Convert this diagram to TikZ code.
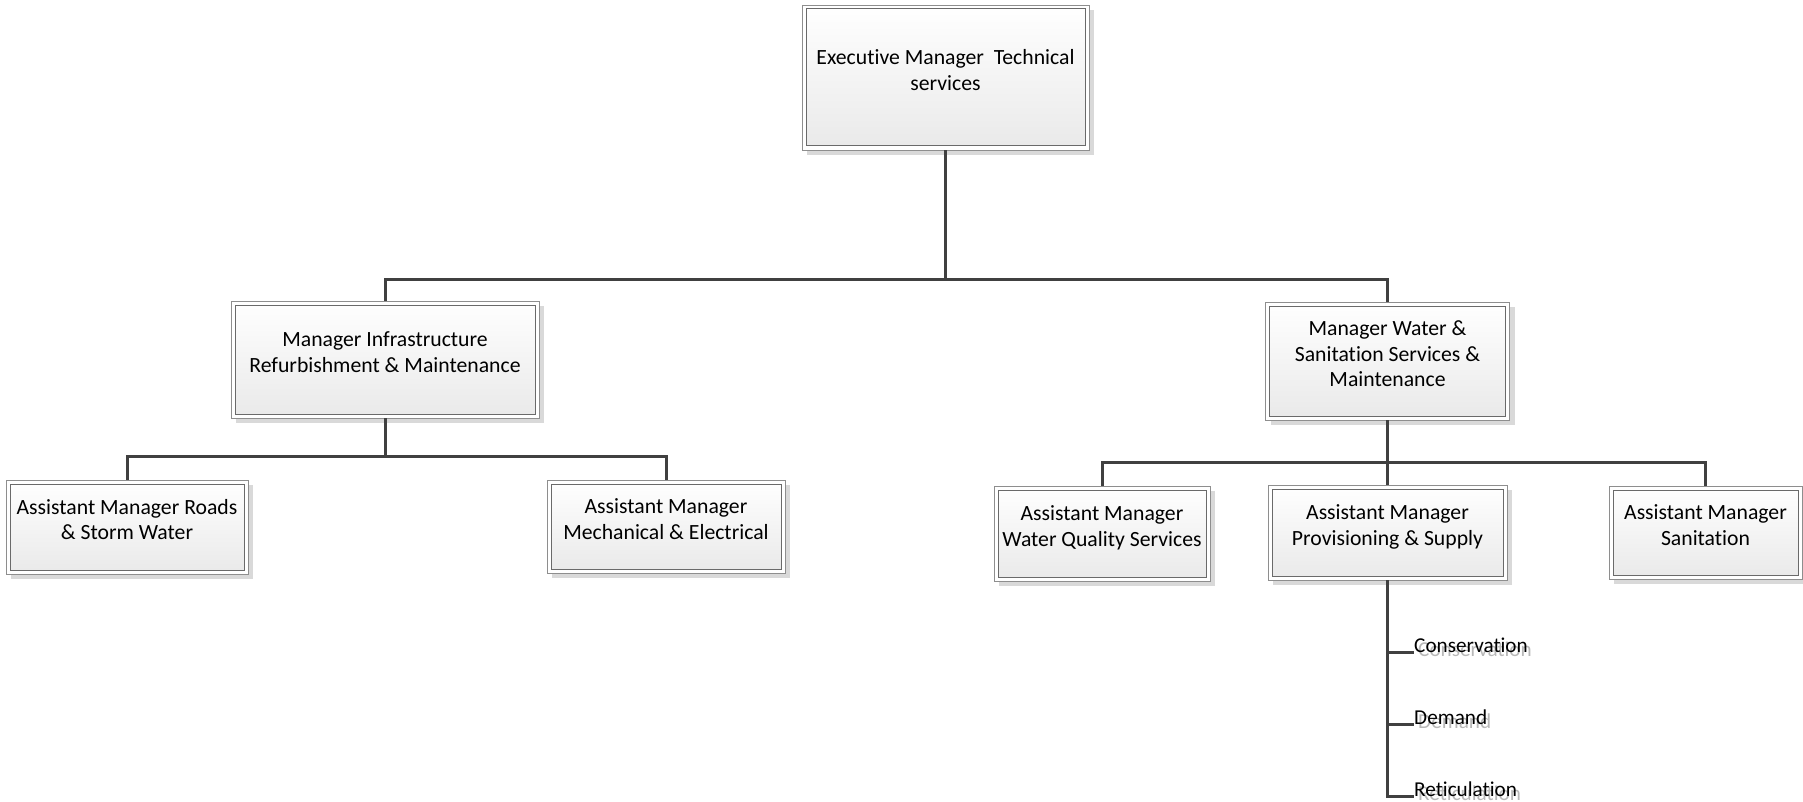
\documentclass[tikz,border=0pt]{standalone}
\usepackage{fontspec}
\setmainfont{Carlito}[Ligatures=NoCommon]
\usetikzlibrary{shadows}

\definecolor{linkgray}{HTML}{404040}
\definecolor{rimgray}{HTML}{8E8E8E}
\definecolor{edgegray}{HTML}{6A6A6A}
\definecolor{shadegray}{HTML}{E9E9E9}
\definecolor{dropgray}{HTML}{D9D9D9}
\definecolor{ghostgray}{HTML}{B8B8B8}

% equal height and depth around the text block, so the box centre
% falls halfway between the first and the last baseline
\newcommand\boxlines[1]{\rule{0pt}{16pt}#1\rule[-16pt]{0pt}{16pt}}

\begin{document}
\begin{tikzpicture}[x=1pt,y=-1pt,
  orgbox/.style={rectangle, draw=rimgray, line width=0.8pt, fill=white,
    inner sep=0pt, align=center, font=\fontsize{21.7}{25.8}\selectfont,
    drop shadow={shadow xshift=5pt, shadow yshift=-5pt, fill=dropgray, opacity=1},
    path picture={\draw[edgegray, line width=1pt, top color=white, bottom color=shadegray]
      ([xshift=4pt,yshift=-4pt]path picture bounding box.north west) rectangle
      ([xshift=-4pt,yshift=4pt]path picture bounding box.south east);}},
  conn/.style={draw=linkgray, line width=3pt},
  lbl/.style={font=\fontsize{21.2}{25.6}\selectfont, inner sep=0pt, anchor=base west},
  ghost/.style={lbl, text=ghostgray}]

\useasboundingbox (0,0) rectangle (1803,802);

% boxes
\node[orgbox, minimum width=287pt, minimum height=145pt] (top) at (945.5,77.5)
  {\boxlines{Executive Manager~ Technical\\services}};
\node[orgbox, minimum width=308pt, minimum height=117pt] (infra) at (385,359.5)
  {\boxlines{Manager Infrastructure\\Refurbishment \& Maintenance}};
\node[orgbox, minimum width=244pt, minimum height=118pt] (water) at (1387.5,361)
  {\boxlines{Manager Water \&\\Sanitation Services \&\\Maintenance}};
\node[orgbox, minimum width=242pt, minimum height=94pt] (roads) at (127,527)
  {\boxlines{Assistant Manager Roads\\\& Storm Water}};
\node[orgbox, minimum width=238pt, minimum height=93pt] (mech) at (666,526.5)
  {\boxlines{Assistant Manager\\Mechanical \& Electrical}};
\node[orgbox, minimum width=216pt, minimum height=95pt] (quality) at (1102,533.5)
  {\boxlines{Assistant Manager\\Water Quality Services}};
\node[orgbox, minimum width=239pt, minimum height=95pt] (supply) at (1387.5,532.5)
  {\boxlines{Assistant Manager\\Provisioning \& Supply}};
\node[orgbox, minimum width=193pt, minimum height=93pt] (sanit) at (1705.5,532.5)
  {\boxlines{Assistant Manager\\Sanitation}};

% junction points of the tree
\coordinate (j1) at (945.5,279);
\coordinate (j2) at (385,456);
\coordinate (j3) at (1387.5,462);

\draw[conn] (top.south) -- (j1);
\draw[conn] (infra.north) |- (j1) -| (water.north);

\draw[conn] (infra.south) -- (j2);
\draw[conn] (roads.north) |- (j2) -| (mech.north);

\draw[conn] (water.south) -- (j3);
\draw[conn] (quality.north) |- (j3) -| (sanit.north);
\draw[conn] (j3) -- (supply.north);

% sections under Provisioning & Supply, each with a soft grey shadow copy
\node[ghost] (cons-s) at (1418,656) {Conservation};
\node[lbl] (cons) at (1414,652) {Conservation};
\node[ghost] (dem-s) at (1418,728) {Demand};
\node[lbl] (dem) at (1414,724) {Demand};
\node[ghost] (ret-s) at (1418,800) {Reticulation};
\node[lbl] (ret) at (1414,796) {Reticulation};

\draw[conn] (supply.south) |- (cons.base west);
\draw[conn] (supply.south) |- (dem.base west);
\draw[conn] (supply.south) |- (ret.base west);
\end{tikzpicture}
\end{document}
